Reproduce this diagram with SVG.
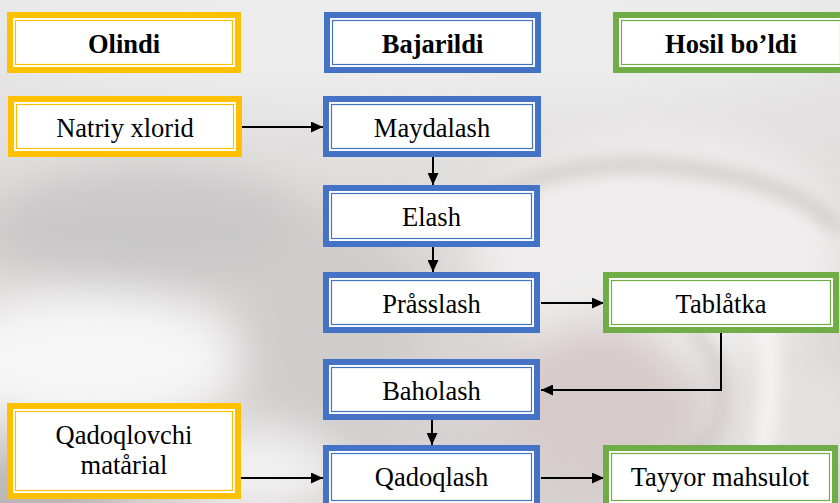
<svg xmlns="http://www.w3.org/2000/svg" width="840" height="503" viewBox="0 0 840 503">
<defs>
<filter id="blur" x="-30%" y="-30%" width="160%" height="160%"><feGaussianBlur stdDeviation="22"/></filter>
<filter id="blur2" x="-30%" y="-30%" width="160%" height="160%"><feGaussianBlur stdDeviation="8"/></filter>
<linearGradient id="bg" x1="0" y1="0" x2="0" y2="1">
<stop offset="0" stop-color="#e8e8e8"/>
<stop offset="0.5" stop-color="#dcd8d8"/>
<stop offset="1" stop-color="#d6d0d0"/>
</linearGradient>
<marker id="ah" markerWidth="12" markerHeight="11" refX="12" refY="5.5" orient="auto" markerUnits="userSpaceOnUse">
<path d="M0,0 L12,5.5 L0,11 z" fill="#000"/>
</marker>
</defs>
<style>
text{font-size:26.5px;fill:#000;text-anchor:middle}
.h{font-weight:bold}
.y .o{fill:#FFC000}.b .o{fill:#4472C4}.g .o{fill:#70AD47}
.w{fill:#fff}
.y .i{fill:#fff;stroke:#FFC000;stroke-width:1.2}
.b .i{fill:#fff;stroke:#4472C4;stroke-width:1.2}
.g .i{fill:#fff;stroke:#70AD47;stroke-width:1.2}
.c line,.c path{stroke:#000;stroke-width:2;fill:none;marker-end:url(#ah)}
</style>
<g id="background">
<rect width="840" height="503" fill="url(#bg)"/>
<g filter="url(#blur)">
<ellipse cx="420" cy="40" rx="420" ry="70" fill="#ececec"/>
<ellipse cx="150" cy="230" rx="170" ry="60" fill="#c9c7c7"/>
<ellipse cx="90" cy="360" rx="150" ry="70" fill="#f6f6f6"/>
<ellipse cx="330" cy="330" rx="90" ry="120" fill="#cfcccc"/>
<ellipse cx="30" cy="500" rx="90" ry="40" fill="#b9b5b5"/>
<ellipse cx="260" cy="470" rx="80" ry="40" fill="#f2f2f2"/>
<ellipse cx="660" cy="250" rx="190" ry="120" fill="#efeded"/>
<ellipse cx="600" cy="400" rx="90" ry="80" fill="#d6caca"/>
<ellipse cx="790" cy="420" rx="80" ry="70" fill="#e6e1e1"/>
</g>
<g filter="url(#blur2)">
<path d="M470,210 Q560,150 700,170 Q800,185 840,230" stroke="#d0cccc" stroke-width="14" fill="none"/>
<path d="M690,330 Q730,360 720,420 Q700,460 650,470" stroke="#c8c0c0" stroke-width="8" fill="none"/>
<path d="M760,300 Q780,380 760,460" stroke="#f6f4f4" stroke-width="18" fill="none"/>
</g>
</g>
<g class="c" id="connectors">
<line x1="242" y1="127" x2="323" y2="127"/>
<line x1="433" y1="157" x2="433" y2="185"/>
<line x1="433" y1="247" x2="433" y2="272"/>
<line x1="541" y1="303" x2="604" y2="303"/>
<path d="M721,333 V390 H541"/>
<line x1="432" y1="420" x2="432" y2="445"/>
<line x1="241" y1="478" x2="323" y2="478"/>
<line x1="541" y1="478" x2="604" y2="478"/>
</g>
<g id="olindi" class="y">
<rect class="o" x="7" y="12" width="234" height="61"/><rect class="w" x="13" y="18" width="222" height="49"/><rect class="i" x="15.5" y="20.5" width="217" height="44"/>
<text class="h" x="124" y="53" font-family="'Liberation Serif',serif">Olindi</text>
</g>
<g id="bajarildi" class="b">
<rect class="o" x="324" y="12" width="217" height="61"/><rect class="w" x="330" y="18" width="205" height="49"/><rect class="i" x="332.5" y="20.5" width="200" height="44"/>
<text class="h" x="432.5" y="53" font-family="'Liberation Serif',serif">Bajarildi</text>
</g>
<g id="hosil" class="g">
<rect class="o" x="613" y="12" width="236" height="61"/><rect class="w" x="619" y="18" width="224" height="49"/><rect class="i" x="621.5" y="20.5" width="219" height="44"/>
<text class="h" x="731" y="53" font-family="'Liberation Serif',serif">Hosil bo’ldi</text>
</g>
<g id="natriy" class="y">
<rect class="o" x="8" y="96" width="234" height="61"/><rect class="w" x="14" y="102" width="222" height="49"/><rect class="i" x="16.5" y="104.5" width="217" height="44"/>
<text x="125" y="137" font-family="'Liberation Serif',serif">Natriy xlorid</text>
</g>
<g id="maydalash" class="b">
<rect class="o" x="323" y="96" width="218" height="61"/><rect class="w" x="329" y="102" width="206" height="49"/><rect class="i" x="331.5" y="104.5" width="201" height="44"/>
<text x="432" y="137" font-family="'Liberation Serif',serif">Maydalash</text>
</g>
<g id="elash" class="b">
<rect class="o" x="323" y="185" width="217" height="62"/><rect class="w" x="329" y="191" width="205" height="50"/><rect class="i" x="331.5" y="193.5" width="200" height="45"/>
<text x="431.5" y="226" font-family="'Liberation Serif',serif">Elash</text>
</g>
<g id="prasslash" class="b">
<rect class="o" x="323" y="272" width="217" height="61"/><rect class="w" x="329" y="278" width="205" height="49"/><rect class="i" x="331.5" y="280.5" width="200" height="44"/>
<text x="431.5" y="313" font-family="'Liberation Serif',serif">Pråsslash</text>
</g>
<g id="tablatka" class="g">
<rect class="o" x="603" y="272" width="236" height="61"/><rect class="w" x="609" y="278" width="224" height="49"/><rect class="i" x="611.5" y="280.5" width="219" height="44"/>
<text x="721" y="313" font-family="'Liberation Serif',serif">Tablåtka</text>
</g>
<g id="baholash" class="b">
<rect class="o" x="323" y="359" width="217" height="61"/><rect class="w" x="329" y="365" width="205" height="49"/><rect class="i" x="331.5" y="367.5" width="200" height="44"/>
<text x="431.5" y="400" font-family="'Liberation Serif',serif">Baholash</text>
</g>
<g id="qadoqlovchi" class="y">
<rect class="o" x="7" y="403" width="234" height="96"/><rect class="w" x="13" y="409" width="222" height="84"/><rect class="i" x="15.5" y="411.5" width="217" height="79"/>
<text x="124" y="444" font-family="'Liberation Serif',serif">Qadoqlovchi</text>
<text x="124" y="474" font-family="'Liberation Serif',serif">matårial</text>
</g>
<g id="qadoqlash" class="b">
<rect class="o" x="323" y="445" width="217" height="64"/><rect class="w" x="329" y="451" width="205" height="52"/><rect class="i" x="331.5" y="453.5" width="200" height="47"/>
<text x="431.5" y="486" font-family="'Liberation Serif',serif">Qadoqlash</text>
</g>
<g id="tayyor" class="g">
<rect class="o" x="603" y="445" width="235" height="64"/><rect class="w" x="609" y="451" width="223" height="52"/><rect class="i" x="611.5" y="453.5" width="218" height="47"/>
<text x="720" y="486" font-family="'Liberation Serif',serif">Tayyor mahsulot</text>
</g>
</svg>
